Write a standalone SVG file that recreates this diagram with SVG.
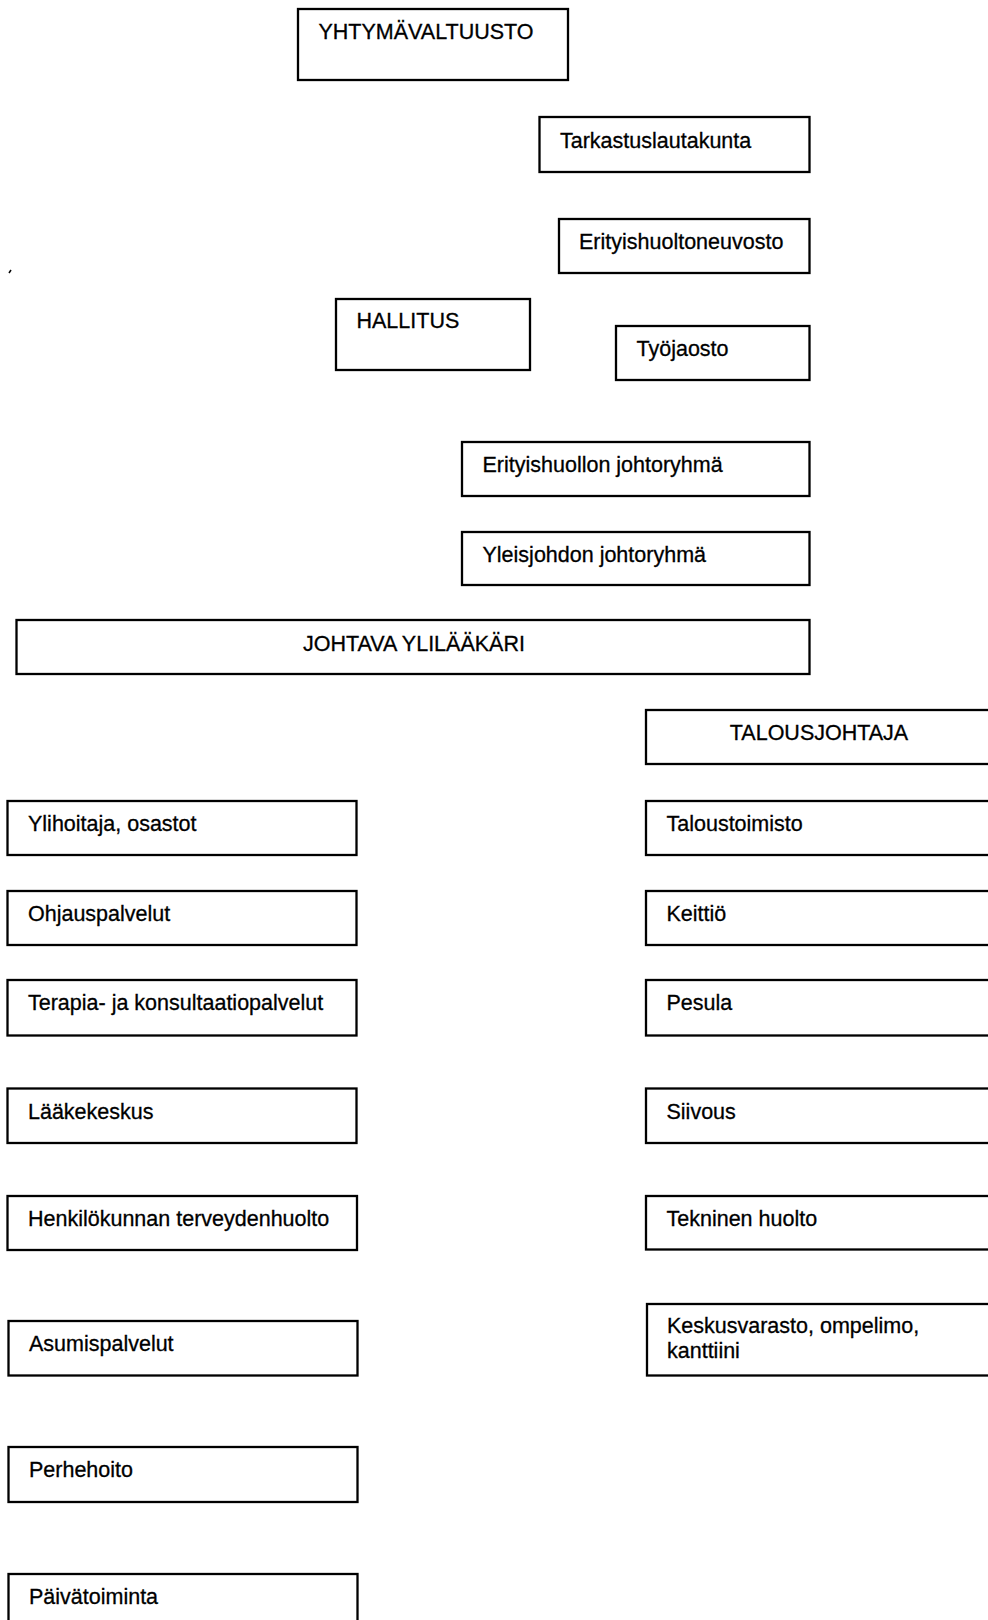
<svg xmlns="http://www.w3.org/2000/svg" width="988" height="1620" viewBox="0 0 988 1620">
<style>
rect.b { fill: #ffffff; stroke: #000000; stroke-width: 2.3; }
text { font-family: "Liberation Sans", Arial, sans-serif; font-size: 21.5px; fill: #000000; stroke: #000000; stroke-width: 0.3; }
</style>
<rect x="0" y="0" width="988" height="1620" fill="#ffffff"/>
<g id="connectors"></g>
<path d="M9 273 L11 270" stroke="#000" stroke-width="1.5"/>
<g id="yhtymavaltuusto"><rect class="b" x="298" y="9" width="270" height="71"/><text x="318.5" y="39">YHTYMÄVALTUUSTO</text></g>
<g id="tarkastuslautakunta"><rect class="b" x="539.5" y="117" width="270" height="55"/><text x="560" y="148">Tarkastuslautakunta</text></g>
<g id="erityishuoltoneuvosto"><rect class="b" x="559" y="219" width="250.5" height="54"/><text x="579" y="249">Erityishuoltoneuvosto</text></g>
<g id="hallitus"><rect class="b" x="336" y="299" width="194" height="71"/><text x="356.5" y="328">HALLITUS</text></g>
<g id="tyojaosto"><rect class="b" x="616" y="326" width="193.5" height="54"/><text x="636.5" y="356">Työjaosto</text></g>
<g id="erityishuollon-johtoryhma"><rect class="b" x="462" y="442" width="347.5" height="54"/><text x="482.5" y="472">Erityishuollon johtoryhmä</text></g>
<g id="yleisjohdon-johtoryhma"><rect class="b" x="462" y="532" width="347.5" height="53"/><text x="482.5" y="562">Yleisjohdon johtoryhmä</text></g>
<g id="johtava-ylilaakari"><rect class="b" x="16.5" y="620" width="793" height="54"/><text x="414" y="651" text-anchor="middle">JOHTAVA YLILÄÄKÄRI</text></g>
<g id="talousjohtaja"><rect class="b" x="646" y="710" width="360" height="54"/><text x="819" y="740" text-anchor="middle">TALOUSJOHTAJA</text></g>
<g id="ylihoitaja"><rect class="b" x="7.5" y="801" width="349" height="54"/><text x="28" y="831">Ylihoitaja, osastot</text></g>
<g id="taloustoimisto"><rect class="b" x="646" y="801" width="360" height="54"/><text x="666.5" y="831">Taloustoimisto</text></g>
<g id="ohjauspalvelut"><rect class="b" x="7.5" y="891" width="349" height="54"/><text x="28" y="921">Ohjauspalvelut</text></g>
<g id="keittio"><rect class="b" x="646" y="891" width="360" height="54"/><text x="666.5" y="921">Keittiö</text></g>
<g id="terapia"><rect class="b" x="7.5" y="980" width="349" height="55.5"/><text x="28" y="1010">Terapia- ja konsultaatiopalvelut</text></g>
<g id="pesula"><rect class="b" x="646" y="980" width="360" height="55.5"/><text x="666.5" y="1010">Pesula</text></g>
<g id="laakekeskus"><rect class="b" x="7.5" y="1088.5" width="349" height="54.5"/><text x="28" y="1119">Lääkekeskus</text></g>
<g id="siivous"><rect class="b" x="646" y="1088.5" width="360" height="54.5"/><text x="666.5" y="1119">Siivous</text></g>
<g id="henkilokunnan-terveydenhuolto"><rect class="b" x="7.5" y="1196" width="349.5" height="54"/><text x="28" y="1226">Henkilökunnan terveydenhuolto</text></g>
<g id="tekninen-huolto"><rect class="b" x="646" y="1196" width="360" height="53.5"/><text x="666.5" y="1226">Tekninen huolto</text></g>
<g id="asumispalvelut"><rect class="b" x="8.5" y="1321" width="349" height="54.5"/><text x="29" y="1351">Asumispalvelut</text></g>
<g id="keskusvarasto"><rect class="b" x="647" y="1304" width="360" height="71.5"/><text x="667" y="1333">Keskusvarasto, ompelimo,</text><text x="667" y="1358">kanttiini</text></g>
<g id="perhehoito"><rect class="b" x="8.5" y="1447" width="349" height="55"/><text x="29" y="1477">Perhehoito</text></g>
<g id="paivatoiminta"><rect class="b" x="8.5" y="1574" width="349" height="60"/><text x="29" y="1604">Päivätoiminta</text></g>
</svg>
